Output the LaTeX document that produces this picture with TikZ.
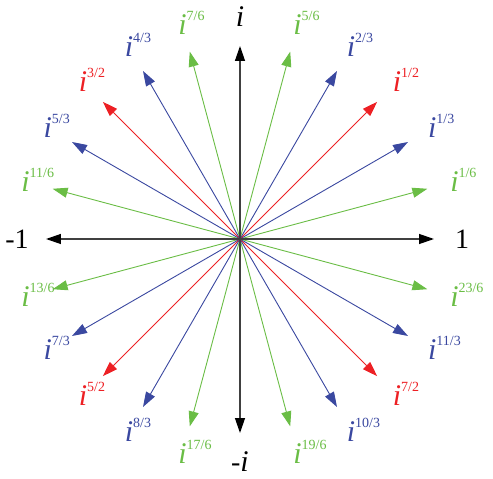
\documentclass[tikz,border=0pt]{standalone}
\usepackage{fontspec}
\setmainfont{Liberation Serif}
\usetikzlibrary{arrows.meta}
\definecolor{cgreen}{RGB}{106,189,69}
\definecolor{cblue}{RGB}{58,72,160}
\definecolor{cred}{RGB}{237,32,36}
\tikzset{
  ray/.style={line width=0.9pt, -{Triangle[length=15pt,width=10pt]}},
  axisline/.style={line width=1.3pt, draw=black!75,
    {Triangle[length=15pt,width=10pt,fill=black,color=black]}-{Triangle[length=15pt,width=10pt,fill=black,color=black]}},
  lab/.style={inner sep=0pt, font=\fontsize{28}{30}\selectfont},
}
\newcommand\bigi{{\fontsize{30}{32}\selectfont\textit{i}}}
\newcommand\ipow[1]{\bigi\rlap{\smash{\raisebox{14pt}{\fontsize{14}{15}\selectfont #1}}}}
\begin{document}
\begin{tikzpicture}[x=1pt,y=1pt]
\useasboundingbox (-240,-240) rectangle (253,239);
\coordinate (O) at (0,0);
\foreach \a/\e/\c in {15/{1/6}/cgreen, 30/{1/3}/cblue, 45/{1/2}/cred, 60/{2/3}/cblue, 75/{5/6}/cgreen,
  105/{7/6}/cgreen, 120/{4/3}/cblue, 135/{3/2}/cred, 150/{5/3}/cblue, 165/{11/6}/cgreen,
  195/{13/6}/cgreen, 210/{7/3}/cblue, 225/{5/2}/cred, 240/{8/3}/cblue, 255/{17/6}/cgreen,
  285/{19/6}/cgreen, 300/{10/3}/cblue, 315/{7/2}/cred, 330/{11/3}/cblue, 345/{23/6}/cgreen}{
  \coordinate (t\a) at (\a:194pt);
  \draw[ray, \c] (O) -- (t\a);
  \node[lab, text=\c] (l\a) at (\a:222pt) {\ipow{\e}};
}
\coordinate (xr) at (0:194pt);
\coordinate (xl) at (180:194pt);
\coordinate (yt) at (90:193pt);
\coordinate (yb) at (270:194pt);
\draw[axisline] (xl) -- (xr);
\draw[axisline] (yb) -- (yt);
\node[lab] (l0) at (0:222pt) {1};
\node[lab] (l180) at (180:223pt) {-1};
\node[lab] (l90) at (90:222pt) {\bigi};
\node[lab] (l270) at (270:223pt) {-\bigi};
\end{tikzpicture}
\end{document}
